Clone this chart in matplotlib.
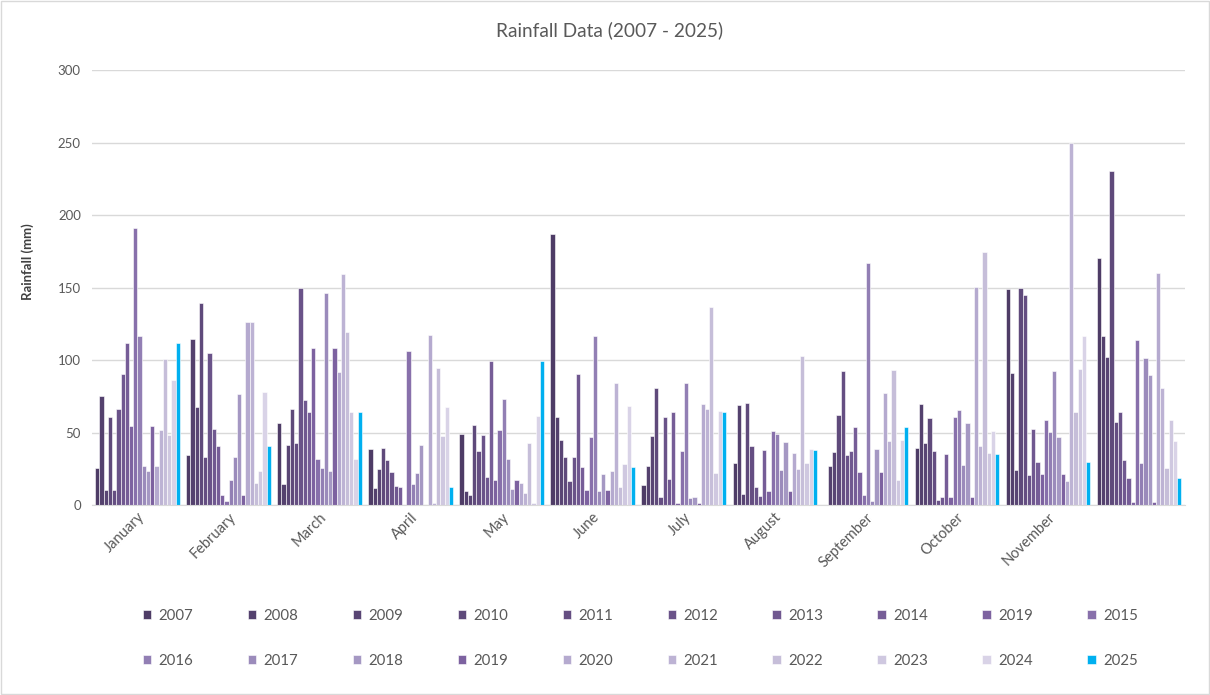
import numpy as np
import matplotlib.pyplot as plt
from matplotlib.patches import Rectangle

plt.rcParams['font.family'] = ['Lato', 'DejaVu Sans']

# categories (last group has no label in the original)
months = ["January", "February", "March", "April", "May", "June", "July",
          "August", "September", "October", "November", ""]
years = ["2007", "2008", "2009", "2010", "2011", "2012", "2013", "2014", "2019", "2015",
         "2016", "2017", "2018", "2019", "2020", "2021", "2022", "2023", "2024", "2025"]

# monthly rainfall (mm)
r2007 = [26, 35, 56.5, 38.7, 48.8, 187, 14.1, 28.9, 0, 39.4, 149.3, 170.2]
r2008 = [75.2, 114.9, 14.8, 11.6, 9.5, 60.6, 27.1, 68.8, 27.2, 69.6, 91, 116.5]
r2009 = [10.2, 67.6, 41.8, 25, 7.2, 44.7, 47.7, 7.6, 36.4, 42.6, 24.2, 102.2]
r2010 = [61.2, 139.4, 66.7, 39.8, 55.6, 33.6, 80.6, 70.6, 62, 59.9, 150, 230.4]
r2011 = [10.8, 33.2, 42.9, 31.5, 37.5, 16.4, 5.6, 41, 92.9, 37.6, 144.9, 57.4]
r2012 = [66.2, 105.2, 149.8, 23.1, 48.2, 33.6, 60.7, 12.7, 35, 3.9, 20.7, 64.5]
r2013 = [90.7, 52.6, 72.7, 13.4, 19.4, 90.3, 17.8, 6.3, 37.6, 6, 52.3, 31.2]
r2014 = [112.2, 40.7, 64.5, 12.3, 99.4, 26.2, 64.6, 38, 53.9, 35.2, 30, 18.7]
r2019a = [54.7, 6.9, 108.7, 0, 17.4, 10.6, 1.9, 9.5, 22.8, 5.5, 21.4, 2.3]
r2015 = [190.9, 3.2, 32.1, 106.3, 51.6, 47, 37.7, 51.4, 7.4, 60.6, 58.8, 113.9]
r2016 = [116.8, 17.3, 25.6, 14.8, 73.4, 116.6, 84.3, 49.3, 167.3, 65.7, 50.5, 29.4]
r2017 = [27, 33.2, 146.1, 22.5, 32.2, 9.9, 4.9, 24.3, 2.8, 27.9, 92.9, 101.5]
r2018 = [23.8, 76.4, 23.8, 41.9, 11.3, 21.4, 6, 43.5, 38.7, 56.7, 47.2, 90]
r2019b = [54.7, 6.9, 108.7, 0, 17.4, 10.6, 1.9, 9.5, 22.8, 5.5, 21.4, 2.3]
r2020 = [27, 126.5, 91.6, 117.1, 15.3, 23.5, 69.5, 35.9, 77.4, 150.2, 16.8, 160.3]
r2021 = [52.2, 126.5, 159.3, 1.4, 8.8, 84.3, 66.2, 25, 44, 40.6, 249.5, 80.6]
r2022 = [100.9, 15.5, 119.6, 94.7, 43.1, 12.4, 136.6, 102.8, 93.3, 174.4, 64, 26]
r2023 = [48.5, 23.8, 64.2, 47.7, 1.9, 28.6, 22.2, 29.4, 17.7, 36.2, 94, 58.8]
r2024 = [86.3, 78.2, 32.1, 67.6, 61.8, 68.4, 64.8, 38.9, 45.2, 50.9, 116.4, 44.1]
r2025 = [112.2, 40.7, 64.5, 12.3, 99.4, 26.2, 64.6, 38, 53.9, 35.2, 30, 18.7]

series = [r2007, r2008, r2009, r2010, r2011, r2012, r2013, r2014, r2019a, r2015,
          r2016, r2017, r2018, r2019b, r2020, r2021, r2022, r2023, r2024, r2025]

colors = ["#4E3C66", "#54416E", "#594574", "#5F4A7B", "#654E82", "#6A5389", "#705890",
          "#765D97", "#7D62A0", "#8870AB", "#927FB4", "#9B8BBB", "#A598C3", "#7D62A0",
          "#B5AACF", "#BDB3D4", "#C6BED9", "#CFC8E0", "#D9D3E7", "#00B0F0"]

fig = plt.figure(figsize=(12.1, 6.95), dpi=100)
ax = fig.add_axes([0.076, 0.273, 0.903, 0.626])

x = np.arange(len(months))
n = len(series)
w = 0.93 / n
handles = []
for i, (vals, lab, c) in enumerate(zip(series, years, colors)):
    b = ax.bar(x - 0.465 + w * (i + 0.5), vals, width=w, color=c,
               edgecolor='white', linewidth=0.4, label=lab)
    handles.append(b)

ax.set_xlim(-0.5, 11.5)
ax.set_ylim(0, 300)
ax.set_yticks(range(0, 301, 50))
ax.grid(axis='y', color='#D9D9D9', linewidth=1)
ax.set_axisbelow(True)
for s in ['top', 'right', 'left']:
    ax.spines[s].set_visible(False)
ax.spines['bottom'].set_color('#D9D9D9')
ax.tick_params(axis='both', length=0, colors='#595959', labelsize=9.5)
ax.tick_params(axis='x', labelsize=10.5)
ax.tick_params(axis='y', pad=8)
ax.set_xticks(x)
ax.set_xticklabels(months, rotation=45, ha='right', rotation_mode='anchor')
ax.set_ylabel("Rainfall (mm)", fontsize=9.5, color='#404040', fontweight='bold')
ax.yaxis.set_label_coords(-0.053, 0.559)

fig.text(0.504, 0.957, "Rainfall Data (2007 - 2025)", ha='center', va='center',
         fontsize=13.7, color='#595959')

# legend laid out row by row (matplotlib fills columns first)
order = []
for k in range(10):
    order += [k, k + 10]
leg = fig.legend([handles[k] for k in order], [years[k] for k in order], ncol=10,
                 loc='lower left', mode='expand', frameon=False,
                 bbox_to_anchor=(143 / 1210, 1 - 668 / 695, 995 / 1210, 82 / 695),
                 borderaxespad=0, borderpad=0, fontsize=10.8, labelspacing=2.1,
                 handlelength=0.55, handleheight=0.55, handletextpad=0.5)
for t in leg.get_texts():
    t.set_color('#595959')

fig.patches.append(Rectangle((0.001, 0.001), 0.998, 0.997, transform=fig.transFigure,
                             fill=False, edgecolor='#D9D9D9', linewidth=1))

plt.savefig('out.png', dpi=100)
